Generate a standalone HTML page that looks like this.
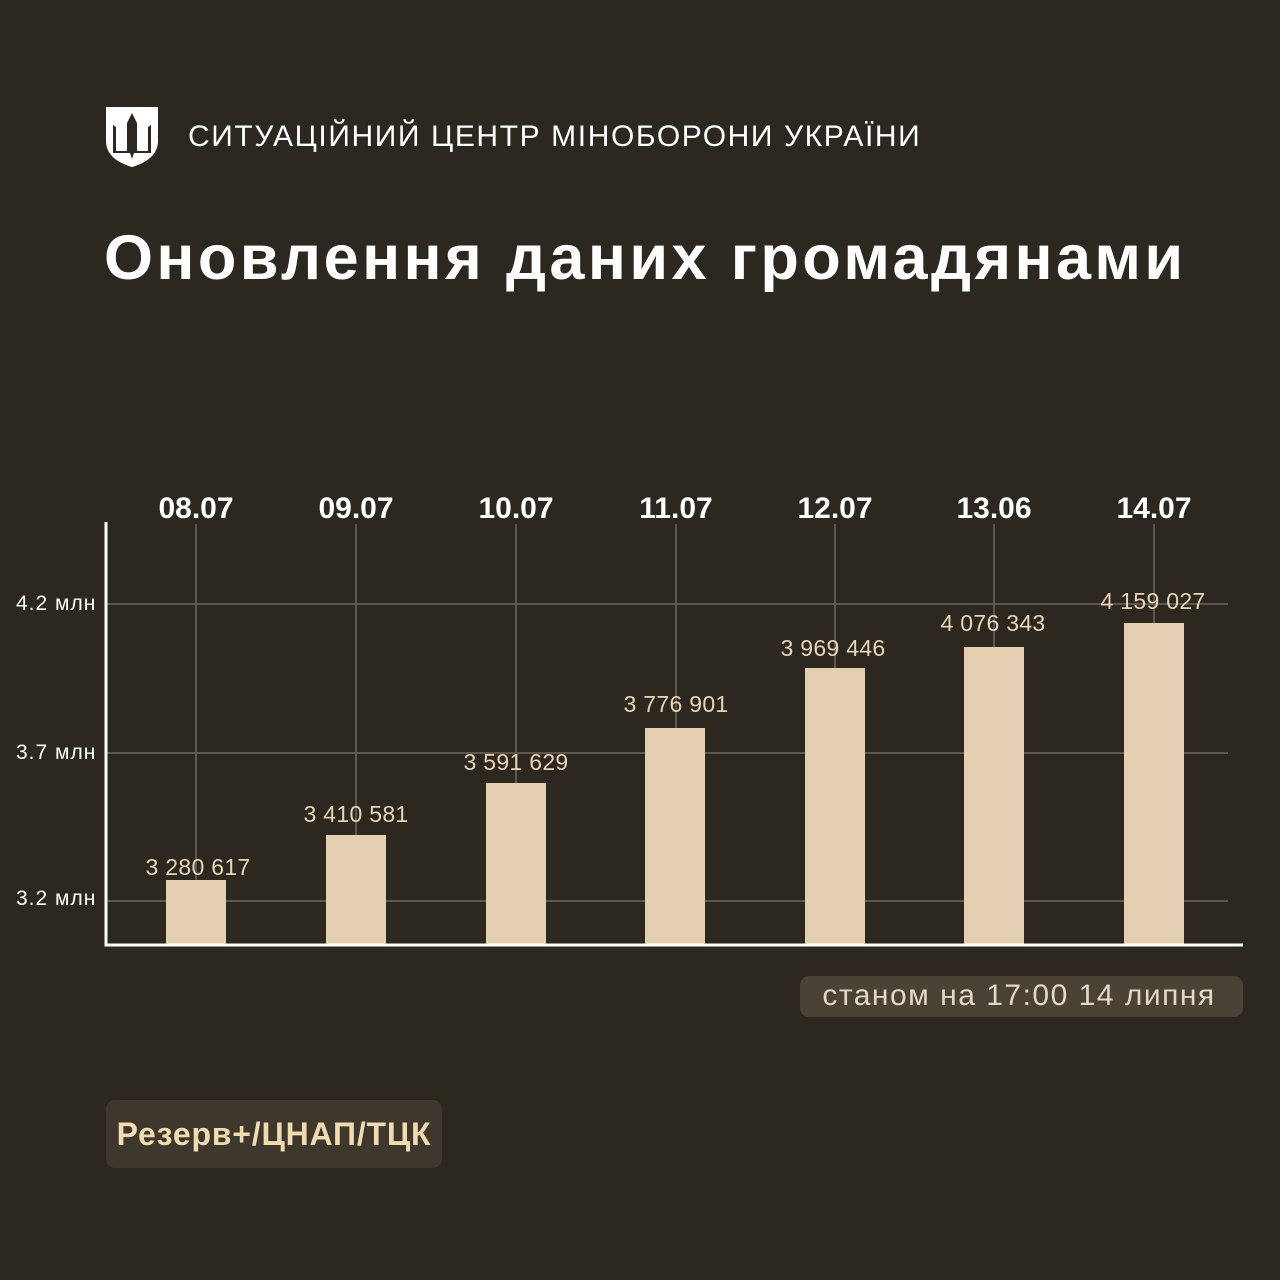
<!DOCTYPE html>
<html><head><meta charset="utf-8"><style>
body{margin:0;width:1280px;height:1280px;background:#2c271f;overflow:hidden;font-family:"Liberation Sans",sans-serif;position:relative}
.a{position:absolute;white-space:nowrap}
</style></head><body>
<svg class="a" style="left:104px;top:105px" width="56" height="64" viewBox="0 0 56 64">
<path d="M2 2 H54 V36 C54 50 42 58 28 62 C14 58 2 50 2 36 Z" fill="#fff"/>
<path d="M28 8 L23 18 V46 H12 V22 L9 20 V48 H26 L28 54 L30 48 H47 V20 L44 22 V46 H33 V18 Z" fill="#2c271f"/>
</svg>
<div class="a" style="left:188px;top:120px;font-size:30px;color:#fff;letter-spacing:1.6px">СИТУАЦІЙНИЙ ЦЕНТР МІНОБОРОНИ УКРАЇНИ</div>
<div class="a" style="left:104px;top:222px;font-size:63px;font-weight:bold;color:#fff;letter-spacing:3.4px">Оновлення даних громадянами</div>
<svg class="a" style="left:0;top:0" width="1280" height="1280">
<g stroke="#5c5750" stroke-width="2">
<line x1="106" y1="604" x2="1228" y2="604"/><line x1="106" y1="753" x2="1228" y2="753"/><line x1="106" y1="901" x2="1228" y2="901"/>
<line x1="196" y1="524" x2="196" y2="945"/><line x1="356" y1="524" x2="356" y2="945"/><line x1="516" y1="524" x2="516" y2="945"/><line x1="676" y1="524" x2="676" y2="945"/><line x1="835" y1="524" x2="835" y2="945"/><line x1="994" y1="524" x2="994" y2="945"/><line x1="1154" y1="524" x2="1154" y2="945"/>
</g>
<g fill="#e4cfb3">
<rect x="166" y="880" width="60" height="65"/><rect x="326" y="835" width="60" height="110"/><rect x="486" y="783" width="60" height="162"/><rect x="645" y="728" width="60" height="217"/><rect x="805" y="668" width="60" height="277"/><rect x="964" y="647" width="60" height="298"/><rect x="1124" y="623" width="60" height="322"/>
</g>
<path d="M106 522 V945 H1243" stroke="#fff" stroke-width="3" fill="none"/>
<g font-family="Liberation Sans" font-size="21" fill="#fff" letter-spacing="1">
<text x="16" y="610">4.2 млн</text><text x="16" y="759">3.7 млн</text><text x="16" y="905">3.2 млн</text>
</g>
<g font-family="Liberation Sans" font-size="30" font-weight="bold" fill="#fff" text-anchor="middle">
<text x="196" y="518">08.07</text><text x="356" y="518">09.07</text><text x="516" y="518">10.07</text><text x="676" y="518">11.07</text><text x="835" y="518">12.07</text><text x="994" y="518">13.06</text><text x="1154" y="518">14.07</text>
</g>
<g font-family="Liberation Sans" font-size="23" fill="#e8d5b8" text-anchor="middle" letter-spacing="0.3">
<text x="198" y="875">3 280 617</text><text x="356" y="822">3 410 581</text><text x="516" y="770">3 591 629</text><text x="676" y="712">3 776 901</text><text x="833" y="656">3 969 446</text><text x="993" y="631">4 076 343</text><text x="1153" y="609">4 159 027</text>
</g>
<rect x="800" y="976" width="443" height="41" rx="9" fill="#4a4234"/>
<text x="1019" y="1005" text-anchor="middle" font-family="Liberation Sans" font-size="30" fill="#e4d8c4" letter-spacing="1.5">станом на 17:00 14 липня</text>
<rect x="106" y="1100" width="336" height="68" rx="9" fill="#3d372c"/>
<text x="274" y="1145" text-anchor="middle" font-family="Liberation Sans" font-size="32" font-weight="bold" fill="#f0dcb0" letter-spacing="0.8">Резерв+/ЦНАП/ТЦК</text>
</svg>
</body></html>
